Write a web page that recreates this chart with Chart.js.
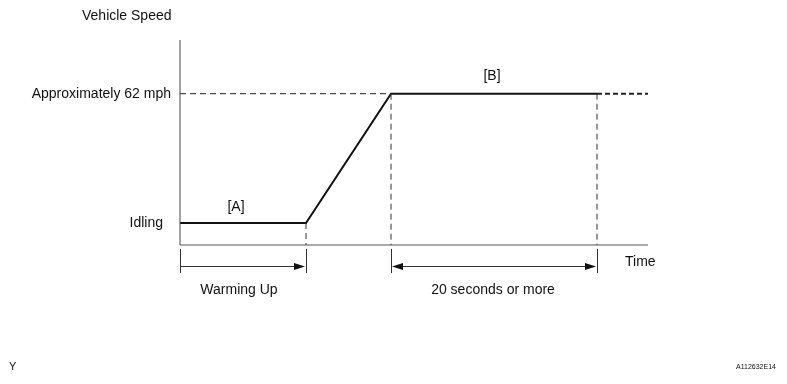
<!DOCTYPE html>
<html><head><meta charset="utf-8">
<script src="https://cdn.jsdelivr.net/npm/chart.js@4"></script>
<style>html,body{margin:0;padding:0;background:#fff}#wrap{width:787px;height:384px;position:relative}</style>
</head><body><div id="wrap"><canvas id="c" width="787" height="384"></canvas></div>
<script>
// Data (time in arbitrary units, speed in arbitrary units)
const timePoints = [0, 12.6, 21.1, 41.7];
const speedPoints = [9, 9, 62, 62];
const timeEnd = 46.8;
const speedMax = 84;
const phaseLabels = ["[A]", "[B]"];
const yLabels = ["Approximately 62 mph", "Idling"];
const spanLabels = ["Warming Up", "20 seconds or more"];

const FONT = '"Liberation Sans", Arial, sans-serif';
const pts = timePoints.map((t, i) => ({x: t, y: speedPoints[i]}));
const last = pts[pts.length - 1];
const seg = (a, b, color, width, dash) => ({
  data: [a, b], borderColor: color, borderWidth: width, borderDash: dash || [],
  pointRadius: 0, fill: false, tension: 0, clip: false
});

const datasets = [
  seg({x: 0, y: 0}, {x: 0, y: speedMax}, '#444', 1),
  seg({x: 0, y: 0}, {x: timeEnd, y: 0}, '#555', 1),
  seg({x: 0, y: last.y}, {x: timePoints[2], y: last.y}, '#222', 1, [6, 4]),
  seg({x: timePoints[1], y: speedPoints[1]}, {x: timePoints[1], y: 0}, '#333', 1, [6, 4]),
  seg({x: timePoints[2], y: last.y}, {x: timePoints[2], y: 0}, '#333', 1, [6, 4]),
  seg({x: last.x, y: last.y}, {x: last.x, y: 0}, '#333', 1, [6, 4]),
  seg(last, {x: timeEnd, y: last.y}, '#222', 2, [5, 3]),
  {data: pts, borderColor: '#111', borderWidth: 2, pointRadius: 0, fill: false, tension: 0, clip: false}
];

function arrowHead(ctx, x, y, dir) {
  ctx.beginPath();
  ctx.moveTo(x, y);
  ctx.lineTo(x - dir * 11, y - 3.5);
  ctx.lineTo(x - dir * 11, y + 3.5);
  ctx.closePath();
  ctx.fill();
}

const annot = {
  id: 'annot',
  afterDraw(chart) {
    const ctx = chart.ctx, xs = chart.scales.x, ys = chart.scales.y;
    const px = v => xs.getPixelForValue(v), py = v => ys.getPixelForValue(v);
    ctx.save();
    // ticks below axis
    ctx.strokeStyle = '#333'; ctx.lineWidth = 1;
    const tickTop = py(-1.6), tickBot = py(-11.5);
    [0, timePoints[1], timePoints[2], last.x].forEach(t => {
      const x = Math.round(px(t)) + 0.5;
      ctx.beginPath(); ctx.moveTo(x, tickTop); ctx.lineTo(x, tickBot); ctx.stroke();
    });
    // arrows
    const ay = Math.round(py(-8.8)) + 0.5;
    ctx.fillStyle = '#111';
    ctx.beginPath(); ctx.moveTo(px(0), ay); ctx.lineTo(px(timePoints[1]) - 4, ay); ctx.stroke();
    arrowHead(ctx, px(timePoints[1]) - 1, ay, 1);
    ctx.beginPath(); ctx.moveTo(px(timePoints[2]) + 4, ay); ctx.lineTo(px(last.x) - 4, ay); ctx.stroke();
    arrowHead(ctx, px(timePoints[2]) + 1, ay, -1);
    arrowHead(ctx, px(last.x) - 1, ay, 1);
    // texts
    ctx.fillStyle = '#111';
    ctx.font = '14px ' + FONT;
    ctx.textBaseline = 'middle';
    ctx.textAlign = 'left';
    ctx.fillText('Vehicle Speed', 82, 16);
    ctx.textAlign = 'right';
    ctx.fillText(yLabels[0], 171, py(last.y));
    ctx.fillText(yLabels[1], 163, py(speedPoints[0]));
    ctx.textAlign = 'center';
    ctx.fillText(phaseLabels[0], px(5.6), py(speedPoints[0]) - 16);
    ctx.fillText(phaseLabels[1], px((timePoints[2] + last.x) / 2) - 2, py(last.y) - 18);
    ctx.fillText(spanLabels[0], px((timePoints[0] + timePoints[1]) / 2) - 4, 290);
    ctx.fillText(spanLabels[1], px((timePoints[2] + last.x) / 2) - 1, 290);
    ctx.textAlign = 'left';
    ctx.fillText('Time', 625, 262);
    ctx.font = '11px ' + FONT;
    ctx.fillText('Y', 9, 367);
    ctx.font = '7px ' + FONT;
    ctx.fillText('A112632E14', 736, 367);
    ctx.restore();
  }
};

new Chart(document.getElementById('c'), {
  type: 'line',
  data: {datasets},
  options: {
    responsive: false, animation: false,
    layout: {padding: {left: 180, right: 139, top: 40, bottom: 139}},
    plugins: {legend: {display: false}, tooltip: {enabled: false}, title: {display: false}},
    scales: {
      x: {type: 'linear', min: 0, max: timeEnd, display: false},
      y: {type: 'linear', min: 0, max: speedMax, display: false}
    }
  },
  plugins: [annot]
});
</script></body></html>
